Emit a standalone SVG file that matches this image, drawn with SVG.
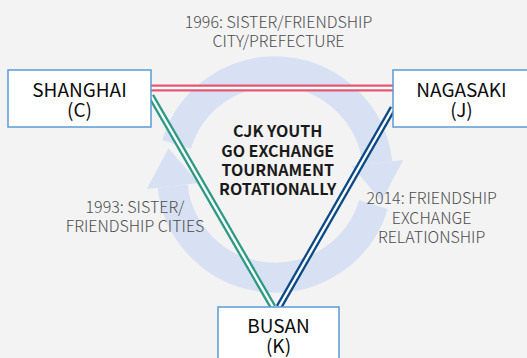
<svg xmlns="http://www.w3.org/2000/svg" width="527" height="358" viewBox="0 0 527 358">
  <style>
    .bg { fill: #f3f3f3; }
    .ring { fill: none; stroke: #d7e1f3; stroke-width: 30; }
    .head { fill: #d7e1f3; }
    .box { fill: #ffffff; stroke: #5b9bd5; stroke-width: 1.5; }
    .name { font-family: "Noto Sans CJK JP", "Noto Sans", sans-serif; font-size: 19px; fill: #0d0d0d; text-anchor: middle; }
    .note { font-family: "Noto Sans CJK JP", "Noto Sans", sans-serif; font-size: 16px; font-weight: 300; fill: #4d4d4d; text-anchor: middle; }
    .core { font-family: "Noto Sans CJK JP", "Noto Sans", sans-serif; font-size: 16px; font-weight: bold; fill: #1a1a1a; text-anchor: middle; }
    .outer { fill: none; stroke-width: 7; }
    .inner { fill: none; stroke: #ffffff; stroke-width: 2.4; }
  </style>

  <rect class="bg" x="0" y="0" width="527" height="358"/>

  <!-- rotation cycle behind the triangle -->
  <g id="cycle">
    <path class="ring" d="M 176.5 144.4 A 103 103 0 0 1 377.4 163.0"/>
    <polygon class="head" points="351.5,165.9 403.2,160.1 381.6,200.8"/>
    <path class="ring" d="M 373.5 204.6 A 103 103 0 0 1 172.6 186.0"/>
    <polygon class="head" points="198.5,183.1 146.8,188.9 168.4,148.2"/>
  </g>

  <!-- relationship lines -->
  <g id="connectors">
    <g id="shanghai-nagasaki">
      <line class="outer" stroke="#e8566f" stroke-width="8" x1="151" y1="88" x2="393" y2="88"/>
      <line class="inner" stroke-width="2.6" x1="151" y1="88" x2="393" y2="88"/>
    </g>
    <g id="shanghai-busan">
      <line class="outer" stroke="#2e9a83" x1="151" y1="96" x2="273" y2="307"/>
      <line class="inner" x1="151" y1="96" x2="273" y2="307"/>
    </g>
    <g id="nagasaki-busan">
      <line class="outer" stroke="#0b4a86" x1="393" y1="108" x2="279" y2="307"/>
      <line class="inner" x1="393" y1="108" x2="279" y2="307"/>
    </g>
  </g>

  <!-- relationship labels -->
  <g id="labels">
    <text class="note" x="278.5" y="27.5">1996: SISTER/FRIENDSHIP<tspan x="278.5" dy="19.5">CITY/PREFECTURE</tspan></text>
    <text class="note" x="135" y="212.7">1993: SISTER/<tspan x="135" dy="19.3">FRIENDSHIP CITIES</tspan></text>
    <text class="note" x="431.6" y="204">2014: FRIENDSHIP<tspan x="431.6" dy="19.5">EXCHANGE</tspan><tspan x="431.6" dy="19.5">RELATIONSHIP</tspan></text>
  </g>

  <g id="center-text">
    <text class="core" x="277.7" y="137.3">CJK YOUTH<tspan x="277.7" dy="19.2">GO EXCHANGE</tspan><tspan x="277.7" dy="19.2">TOURNAMENT</tspan><tspan x="277.7" dy="19.2">ROTATIONALLY</tspan></text>
  </g>

  <g id="shanghai">
    <rect class="box" x="8" y="70" width="143" height="57"/>
    <text class="name" x="79.5" y="96.5">SHANGHAI<tspan x="79.5" dy="20.5">(C)</tspan></text>
  </g>

  <g id="nagasaki">
    <rect class="box" x="393" y="70" width="137" height="57"/>
    <text class="name" x="461.5" y="96.5">NAGASAKI<tspan x="461.5" dy="20.5">(J)</tspan></text>
  </g>

  <g id="busan">
    <rect class="box" x="218" y="307" width="121" height="57"/>
    <text class="name" x="278.5" y="332.7">BUSAN<tspan x="278.5" dy="20.3">(K)</tspan></text>
  </g>
</svg>
